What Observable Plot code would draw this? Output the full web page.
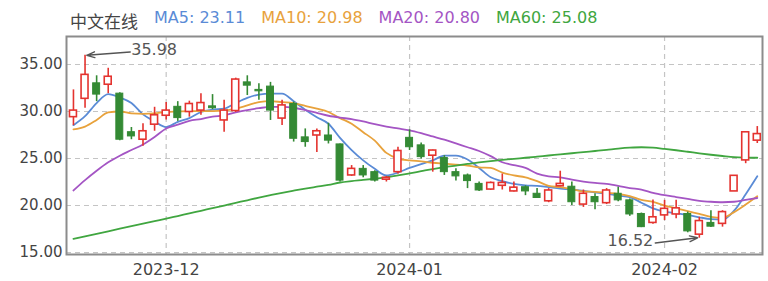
<!DOCTYPE html>
<html>
<head>
<meta charset="utf-8">
<script src="https://cdn.jsdelivr.net/npm/d3@7"></script>
<script src="https://cdn.jsdelivr.net/npm/@observablehq/plot@0.6"></script>
<style>
  body { margin: 0; background: #fff; }
  #legend {
    height: 22px; padding-top: 8px; padding-left: 70px;
    display: flex; gap: 16px; line-height: 20px;
    font: 16px "DejaVu Sans", "Noto Sans CJK SC", sans-serif;
    white-space: nowrap;
  }
  #legend .name { color: #444; font-family: "Noto Sans CJK SC", sans-serif; font-size: 17px; }
  #chart svg { display: block; }
</style>
</head>
<body>
<div id="legend"></div>
<div id="chart"></div>
<script>
// Daily candles, 2023-11-21 .. 2024-02-21 (60 trading days)
const open  = [29.4, 31.35, 33.0, 32.85, 31.9, 27.8, 27.0, 28.6, 29.55, 30.5,
               29.95, 30.1, 30.55, 29.05, 30.05, 33.1, 32.3, 32.65, 29.25, 30.8,
               27.25, 27.45, 27.45, 26.5, 23.2, 23.9, 23.55, 22.75, 23.55, 27.2,
               26.4, 25.3, 25.05, 23.55, 23.2, 22.3, 21.7, 22.1, 21.5, 21.95,
               21.25, 20.45, 22.05, 22.0, 20.1, 20.9, 20.25, 21.25, 20.55, 19.1,
               18.15, 18.95, 19.05, 19.1, 16.9, 18.15, 18.05, 21.5, 24.8, 26.9];
const high  = [32.3, 35.98, 33.8, 34.6, 32.0, 28.3, 28.7, 30.45, 30.95, 31.05,
               31.1, 31.9, 31.8, 31.2, 33.55, 33.8, 32.95, 33.1, 31.2, 31.0,
               28.15, 28.15, 28.75, 26.55, 24.25, 24.25, 23.7, 23.1, 26.2, 28.05,
               26.65, 25.9, 25.3, 23.9, 23.35, 22.5, 22.5, 23.35, 22.5, 22.1,
               21.8, 21.8, 23.65, 22.5, 21.65, 21.25, 21.8, 21.95, 20.7, 19.2,
               20.6, 20.55, 20.55, 19.3, 18.75, 19.45, 19.45, 23.16, 27.8, 28.4];
const low   = [28.5, 30.35, 31.05, 31.9, 26.9, 27.0, 26.3, 27.9, 29.1, 28.95,
               29.4, 29.6, 30.2, 27.8, 29.9, 31.7, 31.2, 29.05, 28.5, 26.75,
               26.2, 25.65, 26.55, 22.5, 23.1, 22.95, 22.5, 22.5, 23.35, 25.85,
               24.95, 23.55, 23.2, 22.6, 21.8, 21.5, 21.6, 21.65, 21.45, 21.05,
               20.75, 20.3, 22.0, 20.0, 19.8, 19.55, 20.1, 20.4, 18.85, 17.65,
               18.0, 18.4, 18.6, 17.1, 16.52, 17.65, 17.7, 21.5, 24.45, 26.6];
const close = [30.1, 33.9, 31.8, 33.7, 27.0, 27.35, 27.9, 29.6, 30.1, 29.3,
               30.8, 30.9, 30.35, 30.1, 33.4, 32.75, 32.15, 30.1, 30.65, 27.1,
               26.75, 27.9, 26.9, 22.65, 23.9, 23.2, 22.65, 22.95, 25.8, 26.2,
               25.15, 25.85, 23.55, 23.1, 22.6, 21.6, 22.4, 22.4, 21.9, 21.5,
               20.8, 21.6, 22.3, 20.35, 21.25, 20.35, 21.6, 20.55, 19.05, 17.7,
               18.75, 19.65, 19.7, 17.25, 18.35, 17.75, 19.3, 23.16, 27.79, 27.6];

// Moving averages
const ma5  = [28.55, 29.5, 30.9, 31.85, 31.5, 30.9, 29.7, 28.95, 28.35, 28.9,
              29.3, 29.95, 30.2, 30.3, 30.9, 31.45, 31.8, 31.9, 31.9, 31.1,
              30.2, 29.4, 28.7, 27.2, 25.9, 24.8, 23.9, 23.2, 23.5, 24.0,
              24.4, 24.8, 25.3, 25.3, 24.9, 24.0, 23.0, 22.6, 22.3, 22.15,
              22.1, 21.95, 21.8, 21.7, 21.55, 21.4, 21.25, 21.05, 20.9, 20.3,
              19.7, 19.35, 19.2, 19.0, 18.75, 18.55, 18.5, 19.45, 21.2, 23.11];
const ma10 = [28.1, 28.4, 29.1, 29.9, 30.0, 29.8, 29.75, 29.8, 29.95, 30.0,
              30.05, 30.05, 30.05, 30.1, 30.3, 30.65, 31.0, 31.1, 31.0, 30.9,
              30.6, 30.3, 29.95, 29.3, 28.7, 27.8, 26.9, 25.6, 25.0, 24.8,
              24.7, 24.55, 24.45, 24.35, 24.25, 24.05, 24.0, 23.5, 23.2, 23.0,
              22.6, 22.1, 21.95, 21.75, 21.5, 21.45, 21.35, 21.25, 21.0, 20.6,
              20.4, 20.0, 19.7, 19.4, 19.1, 18.8, 18.7, 19.3, 20.1, 20.98];
const ma20 = [21.6, 22.7, 23.7, 24.6, 25.3, 25.9, 26.5, 27.3, 28.2, 28.6,
              29.0, 29.2, 29.45, 29.6, 29.9, 30.15, 30.35, 30.5, 30.5, 30.4,
              30.15, 29.85, 29.55, 29.35, 29.2, 28.95, 28.65, 28.4, 28.2, 28.0,
              27.7, 27.35, 27.0, 26.6, 26.2, 25.8, 25.25, 24.6, 24.3, 24.0,
              23.4, 23.1, 23.0, 22.75, 22.55, 22.4, 22.3, 22.1, 21.85, 21.7,
              21.35, 21.1, 20.9, 20.7, 20.5, 20.4, 20.35, 20.4, 20.6, 20.8];
const ma60 = [16.45, 16.72, 16.99, 17.26, 17.53, 17.8, 18.07, 18.34, 18.6, 18.88,
              19.16, 19.44, 19.72, 20.0, 20.28, 20.56, 20.84, 21.1, 21.35, 21.58,
              21.8, 22.0, 22.2, 22.45, 22.6, 22.72, 22.85, 23.0, 23.2, 23.42,
              23.65, 23.88, 24.08, 24.25, 24.42, 24.58, 24.72, 24.85, 24.97, 25.08,
              25.2, 25.32, 25.44, 25.56, 25.68, 25.8, 25.92, 26.05, 26.15, 26.2,
              26.15, 26.02, 25.88, 25.72, 25.55, 25.4, 25.27, 25.15, 25.1, 25.08];

const stockName = "中文在线";
const maNames  = ["MA5", "MA10", "MA20", "MA60"];
const maColors = ["#5a8bd6", "#e8a23c", "#a455c4", "#40a640"];
const maValues = [ma5, ma10, ma20, ma60];

// Month boundaries on the trading-day axis
const tickIndex  = [8, 29, 51];
const tickLabels = ["2023-12", "2024-01", "2024-02"];
const yTicks = [15, 20, 25, 30, 35];

const upColor = "#e4332f", downColor = "#348a34";

// Legend line above the chart
const legend = d3.select("#legend");
legend.append("span").attr("class", "name").text(stockName);
maNames.forEach((name, k) => {
  const v = maValues[k][maValues[k].length - 1];
  legend.append("span").style("color", maColors[k]).text(`${name}: ${v.toFixed(2)}`);
});

const candles = close.map((c, i) => ({
  i, open: open[i], high: high[i], low: low[i], close: c, up: c >= open[i]
}));
const ups = candles.filter(d => d.up);
const downs = candles.filter(d => !d.up);

const hiIdx = d3.maxIndex(high);
const loIdx = d3.minIndex(low);
const hiNote = [{i: hiIdx, v: high[hiIdx]}];
const loNote = [{i: loIdx, v: low[loIdx]}];

const half = 0.3; // half body width, in trading days

const chart = Plot.plot({
  width: 768,
  height: 251,
  marginLeft: 66,
  marginRight: 6,
  marginTop: 6,
  marginBottom: 27,
  style: {fontFamily: "DejaVu Sans, sans-serif", fontSize: "15px", color: "#444", background: "#fff"},
  x: {type: "linear", domain: [-0.6, 59.45]},
  y: {domain: [14.79, 37.98]},
  marks: [
    Plot.gridY(yTicks, {stroke: "#c4c4c4", strokeOpacity: 1, strokeDasharray: "5,4", strokeWidth: 1.2}),
    Plot.gridX(tickIndex, {stroke: "#c4c4c4", strokeOpacity: 1, strokeDasharray: "5,4", strokeWidth: 1.2}),
    ...maValues.map((vals, k) =>
      Plot.line(vals, {x: (d, i) => i, y: d => d, stroke: maColors[k], strokeWidth: 1.8, curve: "monotone-x"})
    ),
    // wicks
    Plot.ruleX(ups, {x: "i", y1: "low", y2: "high", stroke: upColor, strokeWidth: 1.6}),
    Plot.ruleX(downs, {x: "i", y1: "low", y2: "high", stroke: downColor, strokeWidth: 1.6}),
    // bodies: hollow red for rising days, solid green for falling days
    Plot.rect(ups, {x1: d => d.i - half, x2: d => d.i + half, y1: "open", y2: "close",
                    fill: "#fff", stroke: upColor, strokeWidth: 1.6}),
    Plot.rect(downs, {x1: d => d.i - half, x2: d => d.i + half, y1: "open", y2: "close",
                      fill: downColor, stroke: downColor, strokeWidth: 1}),
    // high / low call-outs
    Plot.arrow(hiNote, {x1: d => d.i + 3.9, y1: d => d.v + 0.35, x2: d => d.i + 0.15, y2: d => d.v,
                        stroke: "#555", strokeWidth: 1.4, headLength: 9, headAngle: 40}),
    Plot.text(hiNote, {x: d => d.i + 3.9, y: d => d.v + 0.35, text: d => d.v.toFixed(2),
                       textAnchor: "start", dx: 1, dy: -2, fill: "#555", fontSize: 16}),
    Plot.arrow(loNote, {x1: d => d.i - 3.8, y1: d => d.v - 0.5, x2: d => d.i - 0.15, y2: d => d.v + 0.05,
                        stroke: "#555", strokeWidth: 1.4, headLength: 9, headAngle: 40}),
    Plot.text(loNote, {x: d => d.i - 3.8, y: d => d.v - 0.5, text: d => d.v.toFixed(2),
                       textAnchor: "end", dx: -2, dy: -2, fill: "#555", fontSize: 16}),
    Plot.frame({stroke: "#8c8c8c", strokeWidth: 2}),
    Plot.axisY(yTicks, {tickSize: 0, tickPadding: 4, tickFormat: d => d.toFixed(2), label: null, fill: "#444"}),
    Plot.axisX(tickIndex, {tickSize: 0, tickPadding: 9, tickFormat: d => tickLabels[tickIndex.indexOf(d)],
                           label: null, fill: "#444", fontSize: 16})
  ]
});
document.getElementById("chart").appendChild(chart);
</script>
</body>
</html>
